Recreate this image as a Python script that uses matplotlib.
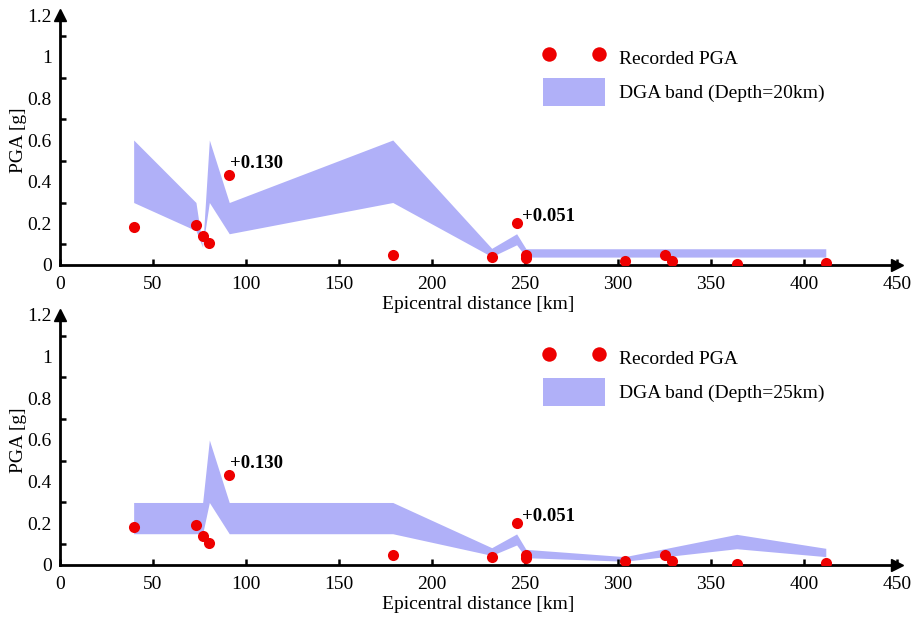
import numpy as np
import matplotlib
matplotlib.use("Agg")
import matplotlib.pyplot as plt
from matplotlib.ticker import MultipleLocator

plt.rcParams['font.family'] = ['Liberation Serif', 'DejaVu Serif']

# recorded stations (same in both panels)
rec_dist = [39.6, 73.1, 76.7, 80.3, 91.0, 178.9, 232.1, 245.5, 250.5, 250.5,
            303.6, 325.3, 329.2, 363.8, 411.7]
rec_pga = [0.184, 0.192, 0.139, 0.104, 0.43, 0.048, 0.04, 0.2, 0.05, 0.035,
           0.021, 0.048, 0.019, 0.005, 0.011]

# DGA band, depth 20 km
band20_x = [39.6, 73.1, 76.7, 80.3, 91.0, 178.9, 232.1, 245.5, 250.5, 411.7]
band20_upper = [0.6, 0.3, 0.085, 0.6, 0.3, 0.6, 0.08, 0.15, 0.078, 0.078]
band20_lower = [0.3, 0.165, 0.085, 0.3, 0.15, 0.3, 0.04, 0.097, 0.038, 0.038]

# DGA band, depth 25 km
band25_x = [39.6, 76.7, 80.3, 91.0, 178.9, 232.1, 245.5, 250.5, 303.6, 363.8, 411.7]
band25_upper = [0.3, 0.3, 0.6, 0.3, 0.3, 0.083, 0.149, 0.075, 0.04, 0.147, 0.08]
band25_lower = [0.15, 0.15, 0.3, 0.15, 0.15, 0.046, 0.096, 0.035, 0.018, 0.078, 0.04]

# exceedance labels
notes = ["+0.130", "+0.051"]
note_x = [91.4, 248.2]
note_y = [0.485, 0.232]

band_color = '#b0b0f8'
dot_color = '#ee0000'

fig = plt.figure(figsize=(9.13, 6.18), dpi=100)
ax_top = fig.add_axes([0.0657, 0.5712, 0.9168, 0.4045])
ax_bot = fig.add_axes([0.0657, 0.0858, 0.9168, 0.4045])

panels = [
    (ax_top, band20_x, band20_upper, band20_lower, 'DGA band (Depth=20km)'),
    (ax_bot, band25_x, band25_upper, band25_lower, 'DGA band (Depth=25km)'),
]

for ax, bx, bu, bl, blabel in panels:
    ax.fill_between(bx, bl, bu, color=band_color, linewidth=0, label=blabel)
    ax.plot(rec_dist, rec_pga, 'o', color=dot_color, ms=8, mew=0,
            label='Recorded PGA', zorder=3)
    for t, x, y in zip(notes, note_x, note_y):
        ax.text(x, y, t, fontsize=13.5, fontweight='bold', va='center', ha='left')

    ax.set_xlim(0, 450)
    ax.set_ylim(0, 1.2)
    for s in ['top', 'right']:
        ax.spines[s].set_visible(False)
    ax.spines['left'].set_linewidth(2)
    ax.spines['bottom'].set_linewidth(2)

    # arrow heads on the axes
    ax.plot(1, 0, '>k', ms=9, transform=ax.transAxes, clip_on=False)
    ax.plot(0, 1, '^k', ms=9, transform=ax.transAxes, clip_on=False)

    ax.xaxis.set_major_locator(MultipleLocator(50))
    ax.set_yticks(np.arange(0.1, 1.2, 0.2), minor=True)
    ax.set_yticks(np.arange(0, 1.21, 0.2))
    ax.set_yticklabels(['0', '0.2', '0.4', '0.6', '0.8', '1', '1.2'])
    ax.tick_params(axis='x', direction='in', length=4, width=1.8, labelsize=14, pad=8)
    ax.tick_params(axis='y', which='major', length=0, labelsize=14, pad=6)
    ax.tick_params(axis='y', which='minor', direction='in', length=4, width=1.8)

    ax.set_xlabel('Epicentral distance [km]', fontsize=14, labelpad=2)
    ax.set_ylabel('PGA [g]', fontsize=14, labelpad=0)

    handles, labels = ax.get_legend_handles_labels()
    ax.legend(handles[::-1], labels[::-1], loc='upper left',
              bbox_to_anchor=(0.577, 0.885), frameon=False, fontsize=14,
              numpoints=2, markerscale=1.3, handlelength=3.2, handleheight=1.85,
              handletextpad=0.7, labelspacing=0.3, borderpad=0, borderaxespad=0)

fig.savefig('out.png', dpi=100)
